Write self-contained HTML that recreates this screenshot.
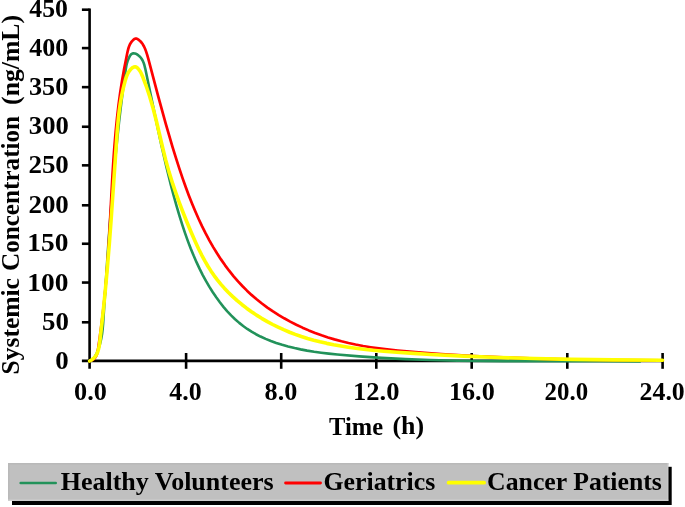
<!DOCTYPE html>
<html><head><meta charset="utf-8"><style>
html,body{margin:0;padding:0;background:#fff;overflow:hidden;}
svg{display:block;will-change:transform;}
text{font-family:"Liberation Serif",serif;font-weight:bold;fill:#000;}
</style></head><body>
<svg width="685" height="507" viewBox="0 0 685 507">
<rect width="685" height="507" fill="#fff"/>
<g stroke="#000" stroke-width="2.6" stroke-linecap="butt">
<line x1="89.6" y1="8.6" x2="89.6" y2="368.8" />
<line x1="81.9" y1="322.30" x2="89.6" y2="322.30" />
<line x1="81.9" y1="282.55" x2="89.6" y2="282.55" />
<line x1="81.9" y1="243.75" x2="89.6" y2="243.75" />
<line x1="81.9" y1="205.30" x2="89.6" y2="205.30" />
<line x1="81.9" y1="165.35" x2="89.6" y2="165.35" />
<line x1="81.9" y1="126.75" x2="89.6" y2="126.75" />
<line x1="81.9" y1="87.15" x2="89.6" y2="87.15" />
<line x1="81.9" y1="48.10" x2="89.6" y2="48.10" />
<line x1="81.9" y1="9.70" x2="89.6" y2="9.70" />
<line x1="81.9" y1="360.9" x2="662.6" y2="360.9" />
<line x1="186.1" y1="353" x2="186.1" y2="368.8" />
<line x1="281.2" y1="353" x2="281.2" y2="368.8" />
<line x1="376.3" y1="353" x2="376.3" y2="368.8" />
<line x1="471.7" y1="353" x2="471.7" y2="368.8" />
<line x1="567.3" y1="353" x2="567.3" y2="368.8" />
<line x1="662.6" y1="353" x2="662.6" y2="368.8" />
</g>
<g fill="none" stroke-linejoin="round" stroke-linecap="round">
<path d="M89.64,361.01 L90.39,360.87 L91.47,360.40 L92.15,359.93 L93.12,359.02 L94.03,357.90 L94.88,356.62 L96.65,353.24 L98.51,348.68 L99.96,344.12 L101.18,339.05 L102.06,333.98 L102.67,328.92 L103.14,323.35 L107.73,252.82 L109.61,226.39 L111.45,202.48 L113.27,180.58 L115.12,160.20 L117.08,140.34 L119.03,122.11 L120.85,106.58 L122.79,91.22 L125.57,70.57 L126.44,65.39 L127.07,62.80 L127.91,60.20 L128.77,58.13 L129.83,56.09 L130.78,54.73 L131.49,54.03 L132.27,53.57 L133.53,53.29 L134.87,53.45 L135.77,53.76 L136.67,54.19 L138.38,55.33 L140.21,57.04 L141.41,58.53 L142.63,60.54 L143.59,62.70 L144.35,64.97 L145.30,68.83 L156.13,120.70 L161.28,144.65 L166.24,166.32 L170.96,185.39 L173.68,195.62 L176.53,205.85 L179.41,215.60 L182.30,224.85 L185.05,233.10 L187.80,240.82 L190.71,248.48 L193.62,255.59 L196.49,262.16 L199.53,268.64 L202.76,275.04 L205.93,280.88 L209.27,286.63 L212.81,292.27 L216.24,297.35 L219.85,302.29 L223.64,307.07 L227.29,311.29 L231.10,315.34 L235.08,319.20 L239.24,322.87 L243.18,326.01 L247.27,328.95 L251.53,331.69 L255.94,334.22 L260.49,336.55 L265.63,338.90 L270.89,341.02 L276.23,342.94 L282.14,344.82 L288.09,346.49 L294.56,348.09 L300.56,349.38 L307.08,350.60 L314.12,351.74 L321.17,352.72 L328.75,353.62 L337.36,354.51 L359.16,356.38 L381.50,357.89 L405.40,359.13 L430.35,360.05 L457.37,360.69 L479.30,360.99 L503.29,361.16 L599.24,361.14 L640.00,361.40" stroke="#22925a" stroke-width="2.6"/>
<path d="M89.60,361.01 L90.77,360.70 L92.31,360.07 L93.60,359.25 L94.68,358.27 L95.56,357.15 L96.27,355.90 L96.83,354.55 L97.28,353.11 L98.02,349.53 L99.75,337.41 L101.54,323.85 L103.09,310.92 L104.48,298.04 L105.67,285.69 L106.72,273.31 L107.72,259.85 L109.26,234.87 L112.43,175.77 L113.42,160.11 L114.44,146.04 L115.67,131.51 L117.01,118.07 L118.50,105.21 L120.15,92.94 L121.96,81.24 L124.10,69.03 L127.08,53.98 L127.77,50.80 L128.46,48.20 L129.14,46.19 L129.75,44.74 L130.75,42.90 L131.64,41.62 L133.07,40.06 L134.33,39.07 L135.23,38.65 L136.15,38.54 L136.62,38.63 L137.53,39.02 L138.82,39.91 L140.35,41.27 L141.67,42.74 L142.81,44.33 L144.02,46.46 L145.05,48.73 L145.96,51.12 L147.11,54.61 L148.46,59.29 L158.36,96.91 L165.86,124.15 L172.64,147.26 L176.00,158.16 L179.20,168.11 L182.54,178.07 L185.70,187.01 L188.83,195.41 L192.12,203.76 L195.37,211.55 L198.78,219.25 L202.13,226.38 L205.65,233.41 L209.34,240.32 L213.21,247.11 L217.00,253.32 L220.96,259.39 L225.11,265.32 L229.13,270.69 L233.64,276.32 L238.02,281.38 L242.59,286.29 L246.97,290.66 L251.51,294.89 L256.63,299.30 L261.92,303.52 L267.38,307.56 L273.00,311.41 L278.77,315.08 L284.20,318.30 L290.20,321.60 L296.31,324.72 L302.51,327.64 L308.80,330.38 L315.14,332.92 L321.54,335.27 L327.99,337.42 L334.46,339.38 L341.45,341.29 L348.48,342.99 L355.53,344.51 L363.12,345.96 L370.73,347.23 L378.88,348.42 L387.06,349.46 L397.83,350.62 L409.68,351.71 L424.69,352.91 L441.32,354.09 L474.25,356.06 L508.89,357.65 L544.11,358.83 L580.81,359.65 L619.88,360.14 L662.60,360.30" stroke="#ff0000" stroke-width="2.7"/>
<path d="M89.61,361.02 L91.92,359.72 L93.83,358.14 L95.38,356.34 L96.63,354.33 L97.77,351.69 L98.61,348.86 L99.30,345.38 L99.85,341.29 L102.14,321.08 L104.07,302.85 L105.80,285.12 L107.44,266.74 L109.32,243.74 L111.27,217.64 L117.21,131.03 L118.53,116.74 L119.30,110.33 L120.14,104.42 L121.50,96.51 L123.17,88.59 L125.21,80.65 L125.95,78.17 L126.81,75.74 L127.64,73.86 L128.36,72.50 L129.49,70.77 L130.48,69.55 L131.59,68.43 L132.79,67.52 L134.03,66.95 L134.87,66.82 L135.28,66.84 L136.09,67.07 L137.25,67.82 L138.63,69.18 L140.08,71.20 L141.30,73.48 L142.36,75.91 L146.11,85.76 L149.67,96.45 L153.16,108.43 L156.56,121.73 L162.79,148.24 L165.62,159.65 L168.92,171.63 L172.83,184.20 L175.80,192.93 L179.11,202.12 L182.78,211.75 L186.78,221.76 L191.28,232.55 L195.10,241.29 L198.65,248.95 L201.96,255.56 L204.98,261.16 L207.94,266.22 L211.07,271.16 L214.11,275.58 L217.34,279.89 L220.75,284.08 L224.34,288.16 L228.44,292.46 L232.72,296.62 L237.18,300.64 L241.80,304.49 L246.57,308.20 L251.47,311.74 L256.51,315.12 L261.65,318.34 L267.35,321.64 L272.69,324.50 L278.12,327.19 L283.61,329.70 L289.62,332.22 L295.22,334.36 L301.34,336.49 L307.51,338.44 L313.73,340.21 L319.99,341.81 L326.77,343.37 L333.60,344.77 L340.96,346.10 L348.35,347.27 L355.78,348.30 L363.73,349.27 L372.71,350.22 L383.71,351.21 L396.73,352.21 L413.75,353.38 L430.75,354.43 L463.71,356.14 L498.64,357.53 L534.05,358.57 L571.97,359.34 L613.46,359.87 L662.60,360.19" stroke="#ffff00" stroke-width="3.6"/>
</g>
<rect x="12" y="466.8" width="659.7" height="38.2" fill="#000"/>
<rect x="8" y="463" width="660.3" height="37.8" fill="#c0c0c0"/>
<rect x="8" y="463" width="660.3" height="1.6" fill="#b9b9b9"/>
<rect x="8" y="463" width="1.6" height="37.8" fill="#b9b9b9"/>
<rect x="8" y="499.6" width="660.3" height="1.3" fill="#d2d2d2"/>
<rect x="667.3" y="463" width="1.0" height="37.8" fill="#cacaca"/>
<g stroke-linecap="round">
<line x1="20.7" y1="483" x2="55.7" y2="483" stroke="#22925a" stroke-width="2.6"/>
<line x1="285.6" y1="483" x2="320.5" y2="483" stroke="#ff0000" stroke-width="2.9"/>
<line x1="448.6" y1="482.7" x2="484.1" y2="482.7" stroke="#ffff00" stroke-width="3.8"/>
</g>
<text x="29.38" y="16.80" font-size="25.5px" textLength="38.57" lengthAdjust="spacingAndGlyphs">450</text>
<text x="29.37" y="56.45" font-size="25.5px" textLength="38.99" lengthAdjust="spacingAndGlyphs">400</text>
<text x="28.94" y="95.10" font-size="25.5px" textLength="39.31" lengthAdjust="spacingAndGlyphs">350</text>
<text x="28.89" y="133.90" font-size="25.5px" textLength="39.97" lengthAdjust="spacingAndGlyphs">300</text>
<text x="28.43" y="173.45" font-size="25.5px" textLength="40.41" lengthAdjust="spacingAndGlyphs">250</text>
<text x="28.43" y="212.84" font-size="25.5px" textLength="40.41" lengthAdjust="spacingAndGlyphs">200</text>
<text x="27.31" y="251.23" font-size="25.5px" textLength="41.14" lengthAdjust="spacingAndGlyphs">150</text>
<text x="27.31" y="290.62" font-size="25.5px" textLength="41.14" lengthAdjust="spacingAndGlyphs">100</text>
<text x="42.00" y="330.10" font-size="25.5px" textLength="26.88" lengthAdjust="spacingAndGlyphs">50</text>
<text x="55.34" y="369.40" font-size="25.5px" textLength="13.45" lengthAdjust="spacingAndGlyphs">0</text>
<text x="74.00" y="399.80" font-size="26px" textLength="32.83" lengthAdjust="spacingAndGlyphs">0.0</text>
<text x="169.29" y="399.80" font-size="26px" textLength="32.37" lengthAdjust="spacingAndGlyphs">4.0</text>
<text x="264.64" y="399.80" font-size="26px" textLength="32.71" lengthAdjust="spacingAndGlyphs">8.0</text>
<text x="353.11" y="399.80" font-size="26px" textLength="46.38" lengthAdjust="spacingAndGlyphs">12.0</text>
<text x="449.00" y="399.80" font-size="26px" textLength="45.71" lengthAdjust="spacingAndGlyphs">16.0</text>
<text x="544.59" y="399.80" font-size="26px" textLength="43.56" lengthAdjust="spacingAndGlyphs">20.0</text>
<text x="639.60" y="399.80" font-size="26px" textLength="45.14" lengthAdjust="spacingAndGlyphs">24.0</text>
<text x="329.12" y="434.80" font-size="25.5px" textLength="53.90" lengthAdjust="spacingAndGlyphs">Time</text>
<text x="392.45" y="434.12" font-size="25.5px" textLength="31.64" lengthAdjust="spacingAndGlyphs">(h)</text>
<text x="60.68" y="489.90" font-size="26px" textLength="212.99" lengthAdjust="spacingAndGlyphs">Healthy Volunteers</text>
<text x="323.50" y="489.90" font-size="26px" textLength="111.73" lengthAdjust="spacingAndGlyphs">Geriatrics</text>
<text x="487.11" y="489.90" font-size="26px" textLength="174.79" lengthAdjust="spacingAndGlyphs">Cancer Patients</text>
<text transform="translate(19.44,104.92) rotate(-90)" font-size="25.5px" textLength="90.00" lengthAdjust="spacingAndGlyphs">(ng/mL)</text>
<text transform="translate(19.20,374.51) rotate(-90)" font-size="25.5px" textLength="96.47" lengthAdjust="spacingAndGlyphs">Systemic</text>
<text transform="translate(19.20,271.04) rotate(-90)" font-size="25.5px" textLength="155.13" lengthAdjust="spacingAndGlyphs">Concentration</text>
</svg>
</body></html>
